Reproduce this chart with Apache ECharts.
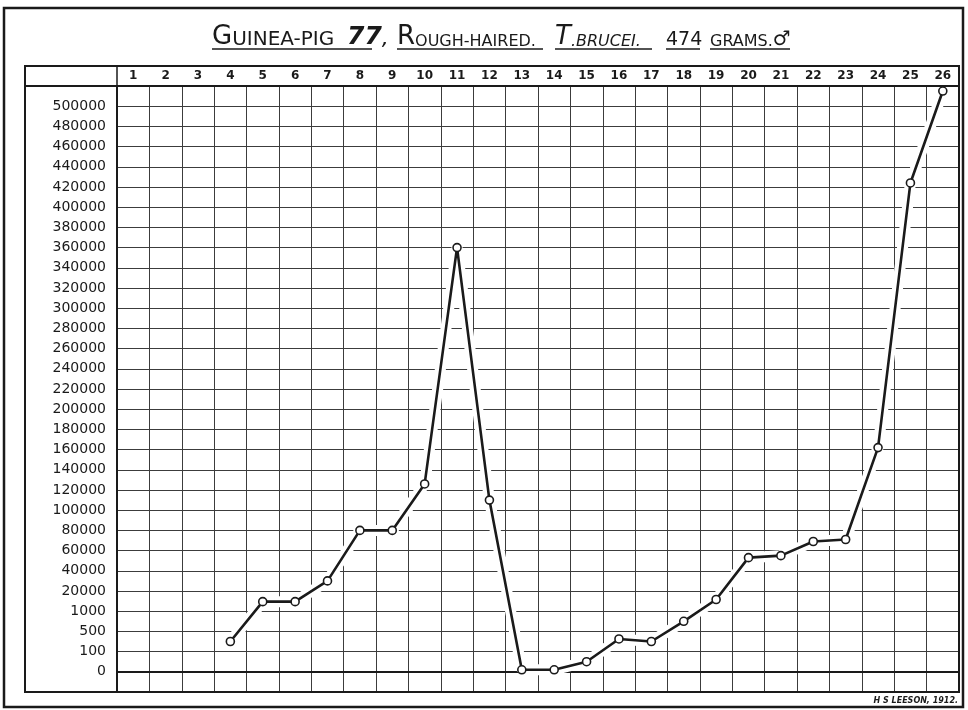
<!DOCTYPE html>
<html>
<head>
<meta charset="utf-8">
<script src="https://cdn.jsdelivr.net/npm/echarts@6/dist/echarts.min.js"></script>
<style>
  html, body { margin: 0; padding: 0; background: #ffffff; }
  #chart { width: 968px; height: 710px; }
</style>
</head>
<body>
<div id="chart"></div>
<script>
// Day of infection, numbered along the top of the sheet
const days = ['1','2','3','4','5','6','7','8','9','10','11','12','13',
              '14','15','16','17','18','19','20','21','22','23','24','25','26'];

// Trypanosomes per c.mm. of blood, one reading per day (no reading on days 1-3)
const trypanosomes = [null, null, null, 300, 10000, 10000, 30000, 80000, 80000,
                      126000, 360000, 110000, 10, 10, 50, 350, 300, 750, 12000,
                      53000, 55000, 69000, 71000, 162000, 424000, 515000];

// Ruled scale of the sheet: each label sits on its own line, equally spaced
const scaleLabels = ['0','100','500','1000','20000','40000','60000','80000',
                     '100000','120000','140000','160000','180000','200000',
                     '220000','240000','260000','280000','300000','320000',
                     '340000','360000','380000','400000','420000','440000',
                     '460000','480000','500000'];
const scaleValues = [0, 100, 500, 1000, 20000, 40000, 60000, 80000,
                     100000, 120000, 140000, 160000, 180000, 200000,
                     220000, 240000, 260000, 280000, 300000, 320000,
                     340000, 360000, 380000, 400000, 420000, 440000,
                     460000, 480000, 500000];

// Position of a count on the ruled scale (line number, interpolated between lines)
function toLine(v) {
  if (v == null) return null;
  const n = scaleValues.length;
  for (let i = 0; i < n - 1; i++) {
    if (v <= scaleValues[i + 1]) {
      return i + (v - scaleValues[i]) / (scaleValues[i + 1] - scaleValues[i]);
    }
  }
  const step = scaleValues[n - 1] - scaleValues[n - 2];
  return (n - 1) + (v - scaleValues[n - 1]) / step;
}

const seriesData = trypanosomes.map(toLine);

const INK = '#1a1a1a';
const RULE = '#3c3c3c';
const HAND = '"DejaVu Sans", sans-serif';

const chart = echarts.init(document.getElementById('chart'), null, { renderer: 'canvas' });

const titleParts = [
  { x: 212, text: '{a|G}{b|UINEA-PIG}', italic: false },
  { x: 347, text: '{n|77}{c|,}', italic: true },
  { x: 397, text: '{a|R}{s|OUGH-HAIRED.}', italic: false },
  { x: 555, text: '{a|T}{s|.BRUCEI.}', italic: true },
  { x: 666, text: '{m|474}', italic: false },
  { x: 710, text: '{s|GRAMS.}{g|♂}', italic: false }
];
const underlines = [[212, 372], [397, 543], [555, 652], [666, 700], [710, 790]];

function richFor(italic) {
  const st = italic ? 'italic' : 'normal';
  const mk = (size) => ({ fontSize: size, fontFamily: HAND, fontStyle: st, fill: INK,
                          verticalAlign: 'bottom', lineHeight: size });
  return { a: mk(26), b: mk(20), n: Object.assign(mk(25), { fontWeight: 'bold' }),
           c: mk(22), s: mk(16), m: mk(19), g: mk(20) };
}

const graphics = [];
// outer border of the sheet
graphics.push({ type: 'rect', silent: true, z: 10,
  shape: { x: 4, y: 8, width: 959, height: 699 },
  style: { fill: null, stroke: INK, lineWidth: 2.5 } });
// border of the ruled table
graphics.push({ type: 'rect', silent: true, z: 10,
  shape: { x: 25, y: 66, width: 934, height: 626 },
  style: { fill: null, stroke: INK, lineWidth: 2 } });
// bottom rule of the heading row, across the label column too
graphics.push({ type: 'line', silent: true, z: 10,
  shape: { x1: 25, y1: 86, x2: 959, y2: 86 },
  style: { stroke: INK, lineWidth: 2 } });
// divider of the label column inside the heading row
graphics.push({ type: 'line', silent: true, z: 10,
  shape: { x1: 117, y1: 66, x2: 117, y2: 86 },
  style: { stroke: INK, lineWidth: 1.5 } });
// heading
titleParts.forEach(p => {
  graphics.push({ type: 'text', silent: true, z: 10, x: p.x, y: 50,
    style: { text: p.text, align: 'left', verticalAlign: 'bottom',
             fill: INK, font: '20px ' + HAND, rich: richFor(p.italic) } });
});
underlines.forEach(u => {
  graphics.push({ type: 'line', silent: true, z: 10,
    shape: { x1: u[0], y1: 49, x2: u[1], y2: 49 },
    style: { stroke: INK, lineWidth: 1.5 } });
});
// draughtsman's signature
graphics.push({ type: 'text', silent: true, z: 10, x: 958, y: 701,
  style: { text: 'H S LEESON, 1912.', align: 'right', verticalAlign: 'middle',
           fill: INK, font: 'italic bold 8px ' + HAND } });

const option = {
  backgroundColor: '#ffffff',
  animation: false,
  grid: { left: 117, right: 9, top: 86, bottom: 18, containLabel: false },
  xAxis: {
    type: 'category',
    position: 'top',
    data: days,
    boundaryGap: true,
    axisLine: { show: true, lineStyle: { color: INK, width: 2 } },
    axisTick: { show: false },
    axisLabel: { interval: 0, margin: 4, color: INK, fontFamily: HAND,
                 fontSize: 12, fontWeight: 'bold' },
    splitLine: { show: true, interval: 0, lineStyle: { color: RULE, width: 1 } }
  },
  yAxis: {
    type: 'value',
    min: -1,
    max: 29,
    interval: 1,
    axisLine: { show: true, lineStyle: { color: INK, width: 2 } },
    axisTick: { show: false },
    axisLabel: {
      margin: 11, color: INK, fontFamily: HAND, fontSize: 14,
      padding: [0, 0, 9, 0],
      formatter: v => (v >= 0 && v < scaleLabels.length) ? scaleLabels[v] : ''
    },
    splitLine: { show: true, lineStyle: { color: RULE, width: 1 } }
  },
  graphic: graphics,
  series: [
    {
      // paper showing through where the rules stop short of the curve
      type: 'line',
      data: seriesData,
      silent: true,
      symbol: 'none',
      connectNulls: false,
      lineStyle: { color: '#ffffff', width: 11 },
      z: 3
    },
    {
      type: 'line',
      data: seriesData,
      symbol: 'circle',
      symbolSize: 8,
      connectNulls: false,
      itemStyle: { color: '#ffffff', borderColor: INK, borderWidth: 1.6 },
      lineStyle: { color: INK, width: 2.6 },
      z: 4
    }
  ]
};

chart.setOption(option);
</script>
</body>
</html>
